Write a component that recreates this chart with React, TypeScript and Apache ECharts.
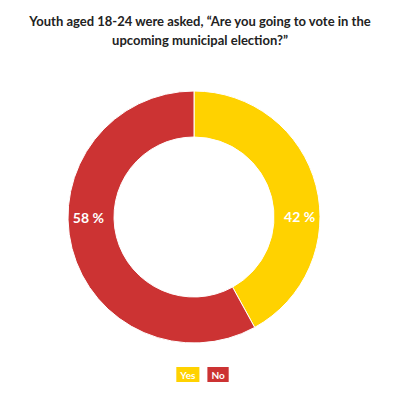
import React, { useEffect, useRef } from "react";
import * as echarts from "echarts";

const categories = ["Yes", "No"];
const values = [42, 58];
const colors = ["#FFD200", "#CC3333"];
const labelOffsets = [[3, 26], [-3, -26]];
const titleText = "Youth aged 18-24 were asked, \u201cAre you going to vote in the\nupcoming municipal election?\u201d";

export default function App() {
  const ref = useRef<HTMLDivElement>(null);
  useEffect(() => {
    const chart = echarts.init(ref.current!, null, { renderer: "svg" });
    chart.setOption({
      animation: false,
      title: {
        text: titleText,
        left: "center",
        top: 6,
        textStyle: {
          fontFamily: "Lato",
          fontWeight: "bold",
          fontSize: 13,
          lineHeight: 19,
          color: "#222",
        },
      },
      legend: {
        bottom: 13,
        left: "center",
        icon: "none",
        itemWidth: 0,
        itemHeight: 0,
        itemGap: 3,
        selectedMode: false,
        data: categories.map((c, i) => ({
          name: c,
          textStyle: {
            color: "#fff",
            fontFamily: "Lato",
            fontWeight: "bold",
            fontSize: 10,
            backgroundColor: colors[i],
            padding: [3, 4, 2, 4],
          },
        })),
      },
      series: [
        {
          type: "pie",
          center: [194, 217],
          radius: [80, 126],
          startAngle: 90,
          clockwise: true,
          itemStyle: { borderColor: "#fff", borderWidth: 1 },
          label: {
            show: true,
            position: "inside",
            formatter: (p: any) => `${p.value} %`,
            color: "#fff",
            fontFamily: "Lato",
            fontWeight: "bold",
            fontSize: 14,
          },
          labelLine: { show: false },
          data: categories.map((c, i) => ({
            name: c,
            value: values[i],
            itemStyle: { color: colors[i] },
            label: { offset: labelOffsets[i] },
          })),
        },
      ],
    });
    return () => chart.dispose();
  }, []);
  return <div ref={ref} style={{ width: 400, height: 400, margin: -8 }} />;
}
